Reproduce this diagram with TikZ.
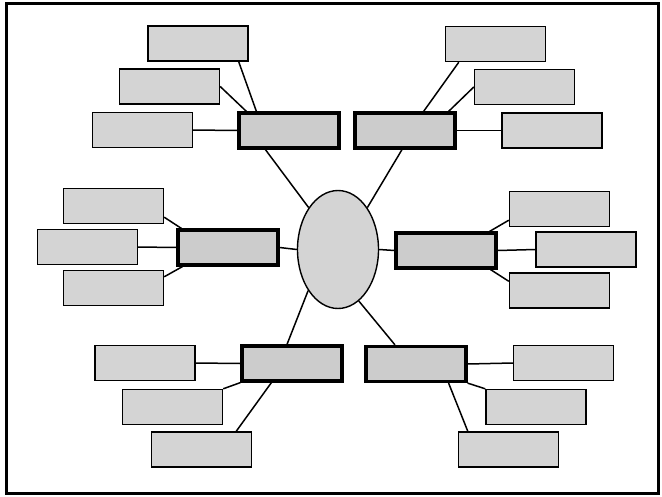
\documentclass[tikz,border=0pt]{standalone}
\usepackage{tikz}
\usetikzlibrary{shapes.geometric}

\begin{document}
\begin{tikzpicture}[x=1pt, y=-1pt,
    box/.style={draw, fill=black!17, inner sep=0pt,
                minimum width=100pt, minimum height=35pt},
    leaf/.style={box, line width=1.4pt},
    hub/.style={box, fill=black!20, line width=3.2pt},
    core/.style={draw, ellipse, fill=black!17, line width=1.4pt, inner sep=0pt,
                 minimum width=81pt, minimum height=118pt},
    link/.style={line width=1.5pt}]

    \useasboundingbox (0,0) rectangle (662,496);
    \draw[line width=3pt] (6.5,3) rectangle (658,493);

    \node[core] (ell) at (338,249.5) {};

    % top left
    \node[hub]  (tlm) at (289,130.5) {};
    \node[leaf] (tl1) at (198,43.5) {};
    \node[leaf] (tl2) at (169.5,86.5) {};
    \node[leaf] (tl3) at (142.5,130) {};
    % top right
    \node[hub]  (trm) at (405,130.5) {};
    \node[leaf] (tr1) at (495.5,44) {};
    \node[leaf] (tr2) at (524.5,87) {};
    \node[leaf] (tr3) at (552,130.5) {};
    % middle left
    \node[hub]  (mlm) at (228,247.5) {};
    \node[leaf] (ml1) at (113.5,206) {};
    \node[leaf] (ml2) at (87.5,247) {};
    \node[leaf] (ml3) at (113.5,288) {};
    % middle right
    \node[hub]  (mrm) at (446,250.5) {};
    \node[leaf] (mr1) at (559.5,209) {};
    \node[leaf] (mr2) at (586,249.5) {};
    \node[leaf] (mr3) at (559.5,290.5) {};
    % bottom left
    \node[hub]  (blm) at (292,363.5) {};
    \node[leaf] (bl1) at (145,363) {};
    \node[leaf] (bl2) at (172.5,407) {};
    \node[leaf] (bl3) at (201.5,449.5) {};
    % bottom right
    \node[hub]  (brm) at (416,364) {};
    \node[leaf] (br1) at (563.5,363) {};
    \node[leaf] (br2) at (536,407) {};
    \node[leaf] (br3) at (508.5,449.5) {};

    % edges
    \draw[link] ([xshift=-10pt]tl1.south east) -- ([xshift=19pt]tlm.north west);
    \draw[link] (tl2.east) -- ([xshift=9pt]tlm.north west);
    \draw[link] (tl3.east) -- (tlm.west);
    \draw[link] ([xshift=28pt]tlm.south west) -- (ell.125);

    \draw[link] ([xshift=14pt]tr1.south west) -- ([xshift=-33pt]trm.north east);
    \draw[link] (tr2.west) -- ([xshift=-8pt]trm.north east);
    \draw[link] (trm.east) -- (tr3.west);
    \draw[link] ([xshift=-3pt]trm.south) -- (ell.55);

    \draw[link] ([yshift=7pt]ml1.south east) -- ([xshift=5pt]mlm.north west);
    \draw[link] (ml2.east) -- (mlm.west);
    \draw[link] ([yshift=-7pt]ml3.north east) -- ([xshift=6pt]mlm.south west);
    \draw[link] (mlm.east) -- (ell.180);

    \draw[link] ([yshift=7pt]mr1.south west) -- ([xshift=-8pt]mrm.north east);
    \draw[link] (mrm.east) -- (mr2.west);
    \draw[link] ([xshift=-7pt]mrm.south east) -- ([yshift=-9pt]mr3.north west);
    \draw[link] (ell.0) -- (mrm.west);

    \draw[link] (bl1.east) -- (blm.west);
    \draw[link] (bl2.north east) -- (blm.south west);
    \draw[link] ([xshift=-16pt]bl3.north east) -- ([xshift=31pt]blm.south west);
    \draw[link] (ell.234) -- ([xshift=-5pt]blm.north);

    \draw[link] (brm.east) -- (br1.west);
    \draw[link] (brm.south east) -- (br2.north west);
    \draw[link] ([xshift=-19pt]brm.south east) -- ([xshift=10pt]br3.north west);
    \draw[link] (ell.292) -- ([xshift=-21pt]brm.north);
\end{tikzpicture}
\end{document}
